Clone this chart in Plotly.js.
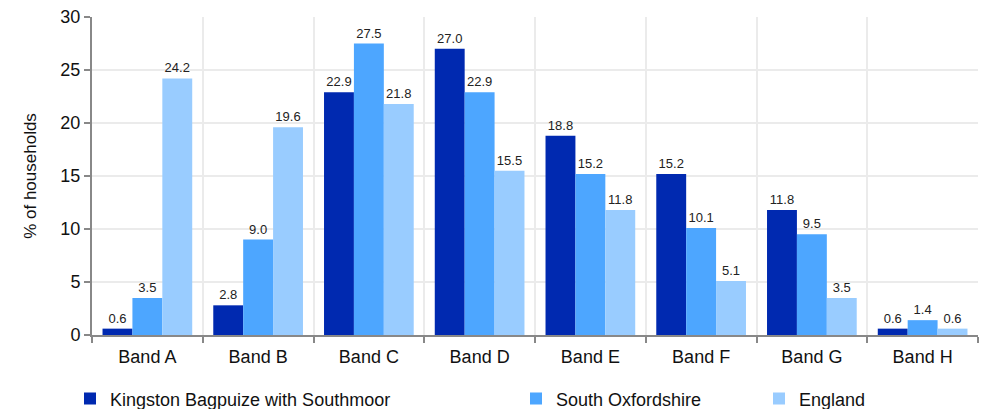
<!DOCTYPE html>
<html><head><meta charset="utf-8">
<script src="https://cdn.plot.ly/plotly-3.0.1.min.js"></script>
<style>html,body{margin:0;padding:0;background:#fff}#chart{width:981px;height:409px}</style>
</head><body><div id="chart"></div>
<script>
const categories = ["Band A","Band B","Band C","Band D","Band E","Band F","Band G","Band H"];
const kingston = [0.6, 2.8, 22.9, 27.0, 18.8, 15.2, 11.8, 0.6];
const southOxon = [3.5, 9.0, 27.5, 22.9, 15.2, 10.1, 9.5, 1.4];
const england = [24.2, 19.6, 21.8, 15.5, 11.8, 5.1, 3.5, 0.6];
const seriesNames = ["Kingston Bagpuize with Southmoor","South Oxfordshire","England"];
const yTicks = [0,5,10,15,20,25,30];

const FONT = "Liberation Sans, Arial, sans-serif";
const colors = ["#0029b0","#4da6ff","#99ccff"];
const data = [kingston, southOxon, england].map((vals,i)=>({
  type:"bar", x:categories, y:vals, name:seriesNames[i],
  marker:{color:colors[i]},
  text: vals.map(v=>v.toFixed(1)), textposition:"outside",
  textfont:{family:FONT, size:13, color:"#222"},
  cliponaxis:false,
  legend: i===0 ? "legend" : (i===1 ? "legend2" : "legend3"),
  hoverinfo:"none"
}));

const legBase = {orientation:"h", yanchor:"middle", xanchor:"left",
  xref:"container", yref:"container", y:0.025,
  font:{family:FONT, size:18, color:"#111"},
  itemwidth:30, bgcolor:"rgba(0,0,0,0)", tracegroupgap:0};

const layout = {
  width:981, height:409,
  margin:{l:92, r:3, t:17, b:74},
  paper_bgcolor:"#fff", plot_bgcolor:"#fff",
  barmode:"group", bargap:0.19, bargroupgap:0,
  font:{family:FONT, size:16, color:"#111"},
  xaxis:{type:"category", tickson:"boundaries", showgrid:true, gridcolor:"#ebebeb", gridwidth:2,
    ticks:"outside", ticklen:6, tickcolor:"#888", tickwidth:2,
    showline:true, linecolor:"#888", linewidth:2, ticklabelstandoff:4,
    tickfont:{size:18, color:"#111"}},
  yaxis:{range:[0,30], tickvals:yTicks, showgrid:true, gridcolor:"#ebebeb", gridwidth:2,
    ticks:"outside", ticklen:6, tickcolor:"#888", tickwidth:2,
    showline:true, linecolor:"#888", linewidth:2, zeroline:false,
    tickfont:{size:18, color:"#111"},
    title:{text:"% of households", font:{size:17, color:"#111"}, standoff:19}},
  showlegend:true,
  legend: Object.assign({}, legBase, {x:70/981}),
  legend2: Object.assign({}, legBase, {x:516/981}),
  legend3: Object.assign({}, legBase, {x:759/981})
};
Plotly.newPlot("chart", data, layout, {displayModeBar:false, staticPlot:true});
</script></body></html>
